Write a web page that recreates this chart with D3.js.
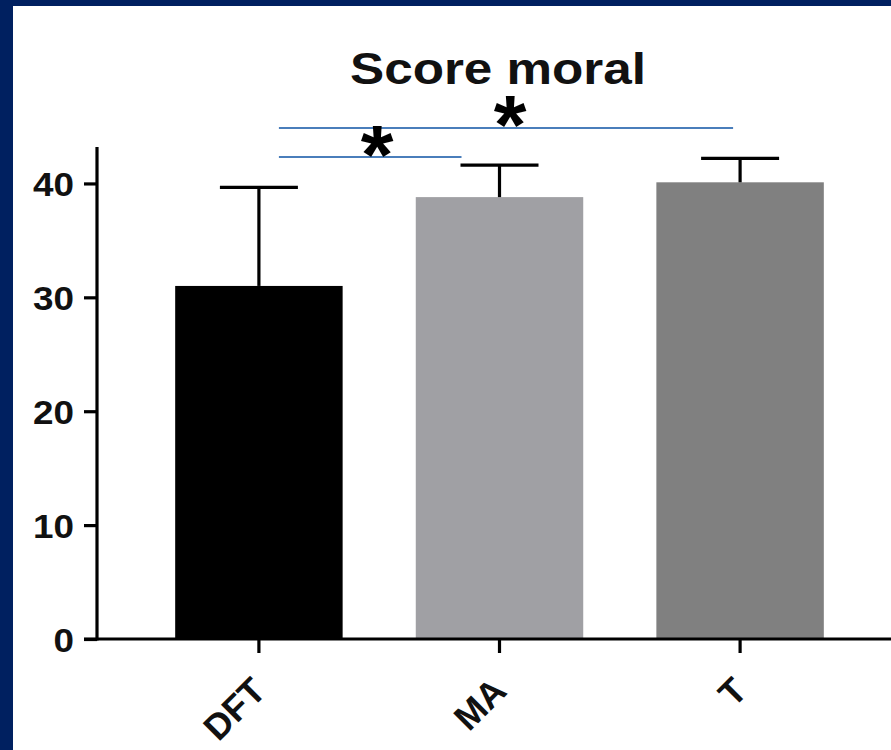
<!DOCTYPE html>
<html><head><meta charset="utf-8">
<script src="https://cdn.jsdelivr.net/npm/d3@7"></script>
<style>html,body{margin:0;padding:0;background:#fff;}svg{display:block;}</style>
</head><body>
<svg id="c" width="891" height="750"></svg>
<script>
const categories = ["DFT", "MA", "T"];
const means = [31.0, 38.8, 40.1];
const errors = [8.65, 2.8, 2.1];
const barColors = ["#000000", "#a0a0a4", "#808080"];
const yTicks = [0, 10, 20, 30, 40];
const title = "Score moral";
const sigPairs = [
  {from: "DFT", to: "T", label: "*", level: 0},
  {from: "DFT", to: "MA", label: "*", level: 1}
];

const svg = d3.select("#c");
const W = 891, H = 750;
svg.append("rect").attr("width", W).attr("height", H).attr("fill", "#002060");
svg.append("rect").attr("x", 13).attr("y", 6).attr("width", W - 13).attr("height", H - 6).attr("fill", "#ffffff");

const y = d3.scaleLinear().domain([0, 43.2]).range([639, 147]);
const x = d3.scaleBand().domain(categories).range([103, 896]).paddingInner(0.304).paddingOuter(0.3);
const font = "'Liberation Sans', Arial, sans-serif";

// title
svg.append("text").attr("x", 498).attr("y", 84).attr("text-anchor", "middle")
  .attr("font-family", font).attr("font-weight", "bold").attr("font-size", 44)
  .attr("textLength", 296).attr("lengthAdjust", "spacingAndGlyphs")
  .attr("fill", "#111").text(title);

// bars
svg.selectAll("rect.bar").data(categories).enter().append("rect")
  .attr("class", "bar")
  .attr("x", d => x(d)).attr("width", x.bandwidth())
  .attr("y", (d, i) => y(means[i])).attr("height", (d, i) => y(0) - y(means[i]))
  .attr("fill", (d, i) => barColors[i]);

// error bars
const eb = svg.append("g").attr("stroke", "#000").attr("stroke-width", 3.2);
categories.forEach((c, i) => {
  const cx = x(c) + x.bandwidth() / 2;
  eb.append("line").attr("x1", cx).attr("x2", cx).attr("y1", y(means[i])).attr("y2", y(means[i] + errors[i]));
  eb.append("line").attr("x1", cx - 39).attr("x2", cx + 39).attr("y1", y(means[i] + errors[i])).attr("y2", y(means[i] + errors[i]));
});

// y axis
const yAxis = d3.axisLeft(y).tickValues(yTicks).tickSize(13).tickPadding(10).tickSizeOuter(0);
const gy = svg.append("g").attr("transform", "translate(97,0)").call(yAxis);
gy.select(".domain").remove();
gy.append("line").attr("x1", 0).attr("x2", 0).attr("y1", 147).attr("y2", 640.5).attr("stroke", "#000").attr("stroke-width", 3.2);
gy.selectAll(".tick line").attr("stroke", "#000").attr("stroke-width", 3.2);
gy.selectAll(".tick text").attr("font-family", font).attr("font-weight", "bold").attr("font-size", 34)
  .attr("fill", "#111").attr("dy", "0.36em")
  .attr("textLength", d => String(d).length * 20.5).attr("lengthAdjust", "spacingAndGlyphs");

// x axis
const xAxis = d3.axisBottom(x).tickSize(14).tickSizeOuter(0).tickFormat(d => d);
const gx = svg.append("g").attr("transform", "translate(0,639)").call(xAxis);
gx.select(".domain").remove();
gx.append("line").attr("x1", 84).attr("x2", 891).attr("y1", 0).attr("y2", 0).attr("stroke", "#000").attr("stroke-width", 3.2);
gx.selectAll(".tick line").attr("stroke", "#000").attr("stroke-width", 3.2);
gx.selectAll(".tick text")
  .attr("font-family", font).attr("font-weight", "bold").attr("font-size", 36).attr("fill", "#111")
  .attr("text-anchor", "end").attr("y", 0).attr("dy", 0)
  .attr("transform", "translate(9,54) rotate(-45)");

// significance
const sigY = [128, 157];
sigPairs.forEach(p => {
  const x1 = x(p.from) + x.bandwidth() / 2 + 20;
  const x2 = p.to === "T" ? x(p.to) + x.bandwidth() / 2 - 7 : x(p.to) + x.bandwidth() / 2 - 38;
  const yy = sigY[p.level];
  svg.append("line").attr("x1", x1).attr("x2", x2).attr("y1", yy).attr("y2", yy)
    .attr("stroke", "#4a7ebb").attr("stroke-width", 2.2);
  svg.append("text").attr("x", (x1 + x2) / 2 + (p.level === 0 ? 4 : 7)).attr("y", yy + (p.level === 0 ? 26 : 27))
    .attr("text-anchor", "middle").attr("font-family", font).attr("font-weight", "bold")
    .attr("font-size", 84).attr("fill", "#000").text(p.label);
});
</script>
</body></html>
